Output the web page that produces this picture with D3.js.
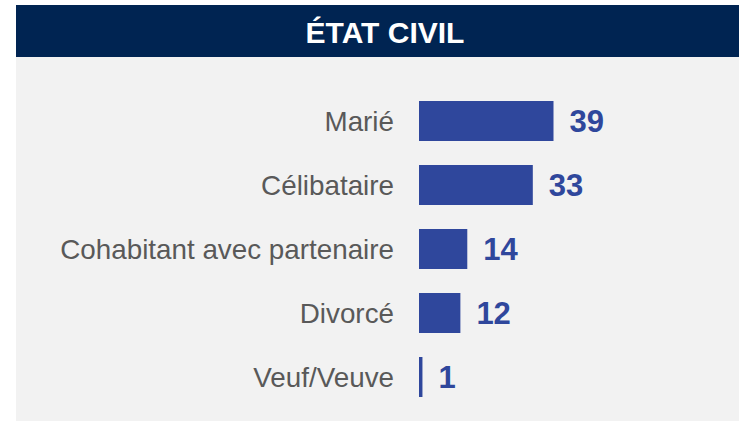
<!DOCTYPE html>
<html>
<head>
    <meta charset="utf-8">
    <title>État civil</title>
    <script src="https://d3js.org/d3.v7.min.js"></script>
    <style>
        body { margin: 0; background: #fff; font-family: "Liberation Sans", Arial, sans-serif; }
        #chart { display: block; }
    </style>
</head>
<body>
<svg id="chart"></svg>
<script>

const categories = ["Marié", "Célibataire", "Cohabitant avec partenaire", "Divorcé", "Veuf/Veuve"];
const values = [39, 33, 14, 12, 1];
const title = "ÉTAT CIVIL";

const width = 739, height = 423;
const data = categories.map((c, i) => ({ cat: c, val: values[i] }));

const svg = d3.select("#chart")
    .attr("width", width)
    .attr("height", height);

// panel + header
svg.append("rect")
    .attr("x", 16).attr("y", 5)
    .attr("width", width - 16).attr("height", 416)
    .attr("fill", "#f2f2f2");

svg.append("rect")
    .attr("x", 16).attr("y", 5)
    .attr("width", width - 16).attr("height", 52)
    .attr("fill", "#002452");

svg.append("text")
    .attr("x", 385)
    .attr("y", 43)
    .attr("text-anchor", "middle")
    .style("font-size", "30px")
    .style("font-weight", "bold")
    .style("fill", "#fff")
    .text(title);

const y = d3.scaleBand()
    .domain(categories)
    .range([89, 409])
    .paddingInner(0.375)
    .paddingOuter(0.1875);

const x = d3.scaleLinear()
    .domain([0, 39])
    .range([419, 553.5]);

const barColor = "#2f479c";

svg.selectAll("rect.bar")
    .data(data)
    .join("rect")
    .attr("class", "bar")
    .attr("x", x(0))
    .attr("y", d => y(d.cat))
    .attr("width", d => x(d.val) - x(0))
    .attr("height", y.bandwidth())
    .attr("fill", barColor);

// category labels
svg.selectAll("text.cat")
    .data(data)
    .join("text")
    .attr("class", "cat")
    .attr("x", 394)
    .attr("y", d => y(d.cat) + y.bandwidth() / 2)
    .attr("dy", "0.36em")
    .attr("text-anchor", "end")
    .style("font-size", "27.8px")
    .style("fill", "#595959")
    .text(d => d.cat);

// value labels
svg.selectAll("text.val")
    .data(data)
    .join("text")
    .attr("class", "val")
    .attr("x", d => x(d.val) + 16)
    .attr("y", d => y(d.cat) + y.bandwidth() / 2)
    .attr("dy", "0.37em")
    .style("font-size", "31px")
    .style("font-weight", "bold")
    .style("fill", barColor)
    .text(d => d.val);

</script>
</body>
</html>
